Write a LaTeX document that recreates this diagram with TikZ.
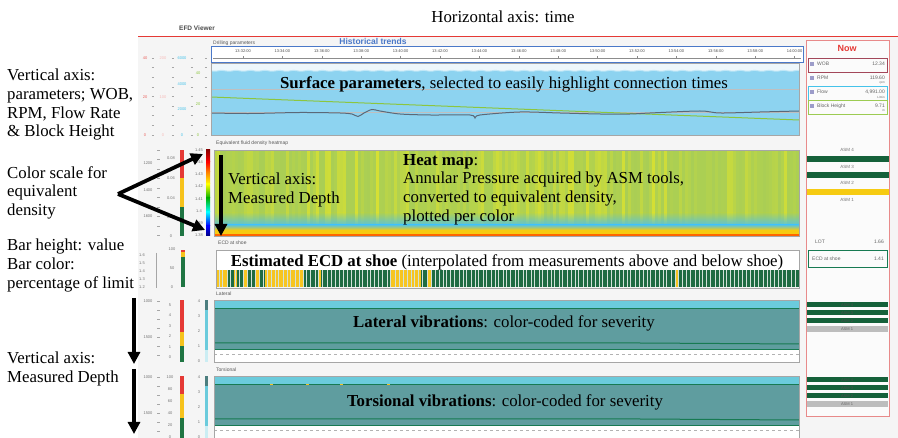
\documentclass[tikz,border=0pt]{standalone}
\usepackage{fontspec}
\setmainfont{Liberation Serif}
\newfontfamily\uisans{Liberation Sans}
\usetikzlibrary{arrows.meta}

\definecolor{uired}{HTML}{E53935}
\definecolor{nowframe}{HTML}{E88A8A}
\definecolor{wobframe}{HTML}{A3475A}
\definecolor{flowframe}{HTML}{45C3EA}
\definecolor{bhframe}{HTML}{9CCB52}
\definecolor{histblue}{HTML}{4A78C8}
\definecolor{surfblue}{HTML}{8DD3F0}
\definecolor{surftop}{HTML}{EEF7FB}
\definecolor{trendgray}{HTML}{5B6878}
\definecolor{trendgreen}{HTML}{8CC63F}
\definecolor{heatgrn}{HTML}{A9CE55}
\definecolor{heatyel}{HTML}{DCE22E}
\definecolor{heatcyan}{HTML}{5CC3D8}
\definecolor{heatbot}{HTML}{F6CB12}
\definecolor{ecdgreen}{HTML}{1E6B42}
\definecolor{ecdyel}{HTML}{F7C520}
\definecolor{vibcyan}{HTML}{6BCBDC}
\definecolor{vibteal}{HTML}{5F9D9F}
\definecolor{vibline}{HTML}{177A52}
\definecolor{asmgreen}{HTML}{15613A}
\definecolor{asmgray}{HTML}{BDBDBD}
\definecolor{barred}{HTML}{E53935}
\definecolor{baryel}{HTML}{F6C21C}
\definecolor{bargreen}{HTML}{1F7543}
\definecolor{uibg}{HTML}{F5F5F5}

\begin{document}
\begin{tikzpicture}[x=1pt, y=-1pt,
   note/.style={font=\fontsize{16.8}{18.7}\selectfont, align=left, inner sep=0pt, anchor=north west},
   caption/.style={font=\fontsize{16.8}{18.7}\selectfont, inner sep=0pt},
   bigarrow/.style={line width=3.8pt, -{Triangle[length=12pt,width=12pt]}},
   scalelab/.style={font=\uisans\fontsize{4}{4}\selectfont, text=black!55, inner sep=0pt},
   paneltitle/.style={font=\uisans\fontsize{5}{5}\selectfont, text=black!65, inner sep=0pt, anchor=west},
   nowlab/.style={font=\uisans\fontsize{5}{5}\selectfont, text=black!60, inner sep=0pt},
   asmlab/.style={font=\uisans\fontsize{4.5}{4.5}\selectfont, text=black!55, inner sep=0pt},
   panelframe/.style={draw=black!35, line width=0.6pt}]
\useasboundingbox (0,0) rectangle (898,438);
\fill[white] (0,0) rectangle (898,438);
\fill[uibg] (138,37) rectangle (898,438);

% screenshot header
\node[font=\uisans\bfseries\fontsize{6.5}{6.5}\selectfont, text=black!70] (viewer) at (197,28) {EFD Viewer};
\draw[uired, line width=1pt] (138,36.5) -- (898,36.5);
\node[paneltitle] (drilltitle) at (213,43) {Drilling parameters};
\node[font=\uisans\bfseries\fontsize{8.5}{8.5}\selectfont, text=histblue] (hist) at (373,41) {Historical trends};

% time axis
\fill[white] (211,47) rectangle (803,62);
\draw[black!45, line width=0.6pt] (213,58.5) -- (801,58.5);
\foreach \t [count=\k from 0] in {13:32:00,13:34:00,13:36:00,13:38:00,13:40:00,13:42:00,13:44:00,13:46:00,13:48:00,13:50:00,13:52:00,13:54:00,13:56:00,13:58:00,14:00:00}{
  \node[scalelab, text=black!70] (time\k) at (243+39.4*\k,51.5) {\t};
  \draw[black!45, line width=0.4pt] (243+39.4*\k,56.5) -- (243+39.4*\k,58.5);
}
\draw[histblue, line width=1pt] (211,47) rectangle (803,62.5);

% surface parameters panel
\fill[surftop] (211,63) rectangle (799,71);
\fill[surfblue] (211,71) rectangle (799,135);
\draw[surfblue!55!white, line width=1pt] plot[domain=211:799, samples=200] (\x, {70.8+0.45*sin((\x-211)*25)});
\draw[black!25, line width=0.5pt] (211,89) -- (799,89);
\draw[black!25, line width=0.5pt] (211,112) -- (799,112);
\draw[trendgreen, line width=1pt] (211,97) -- (799,120);
\draw[trendgray, line width=1pt] plot[smooth] coordinates {(211,113) (250,113.5) (300,112.5) (340,113) (352,114) (358,116.5) (364,113) (372,109.5) (380,111) (400,114) (430,115) (470,115) (475,118) (480,115) (520,112) (560,113) (600,114) (630,114) (650,113) (700,111) (720,113) (760,112) (799,111)};
\draw[panelframe] (211,63) rectangle (799,135);

% surface scales
\foreach \lab/\yy in {40/58,20/97,0/135}{\node[scalelab, text=barred!80] at (145,\yy) {\lab};}
\foreach \lab/\yy in {200/58,100/97,0/135}{\node[scalelab, text=barred!35] at (163,\yy) {\lab};}
\foreach \lab/\yy in {6000/58,4000/84,2000/109,0/135}{\node[scalelab, text=flowframe] at (182,\yy) {\lab};}
\foreach \lab/\yy in {40/73,20/104,0/135}{\node[scalelab, text=trendgreen] at (198,\yy) {\lab};}
\foreach \xx in {153,173,192,206}{
  \foreach \k in {0,...,8}{\draw[black!35, line width=0.4pt] (\xx-1.2,58+9.6*\k) -- (\xx+1.2,58+9.6*\k);}
}

% heat map
\node[paneltitle] (heattitle) at (216,143) {Equivalent fluid density heatmap};
\pgfmathsetseed{17}
\foreach \i in {0,...,194}{
  \pgfmathtruncatemacro\mix{100*rnd*rnd}
  \fill[heatyel!\mix!heatgrn] (214+3*\i,150) rectangle ++(3.2,63);
  \shade[top color=heatyel!\mix!heatgrn, bottom color=heatcyan] (214+3*\i,212.5) rectangle ++(3.2,13);
}
\shade[top color=heatcyan, bottom color=heatbot] (214,225) rectangle (799,230);
\fill[heatbot] (214,230) rectangle (799,234);
\fill[orange!80!red] (214,234) rectangle (799,236);
\draw[black!50, line width=0.8pt] (214,150) -- (799,150);
\draw[panelframe] (214,150) rectangle (799,236);

% heat map scales
\foreach \lab/\yy in {1200/163,1400/190,1600/216}{\node[scalelab] at (148,\yy) {\lab};}
\foreach \k in {0,...,9}{\draw[black!35, line width=0.4pt] (157,150+9.5*\k) -- (159.5,150+9.5*\k);}
\foreach \lab/\yy in {0.08/158,0.06/178,0.04/198,0.02/217,0/236}{\node[scalelab] at (171,\yy) {\lab};}
\fill[barred] (180,150) rectangle (184,178);
\fill[baryel] (180,178) rectangle (184,207);
\fill[bargreen] (180,207) rectangle (184,236);
\foreach \lab [count=\k from 0] in {1.45,1.44,1.43,1.42,1.41,1.4,1.39,1.38}{\node[scalelab] at (199,150+12.2*\k) {\lab};}
\shade[top color=red!55!black, bottom color=red] (206,150) rectangle (210,162);
\shade[top color=red, bottom color=orange] (206,162) rectangle (210,172);
\shade[top color=orange, bottom color=yellow] (206,172) rectangle (210,184);
\shade[top color=yellow, bottom color=green!70!black] (206,184) rectangle (210,198);
\shade[top color=green!70!black, bottom color=cyan] (206,198) rectangle (210,212);
\shade[top color=cyan, bottom color=blue] (206,212) rectangle (210,226);
\shade[top color=blue, bottom color=blue!50!black] (206,226) rectangle (210,236);

% ECD at shoe
\node[paneltitle] (ecdtitle) at (218,243) {ECD at shoe};
\fill[white] (216,250) rectangle (799,270);
\fill[ecdgreen] (216,270) rectangle (799,287.5);
\foreach \a/\b in {216/228,234/237,244/247,256/259,265/303,318/321,390/421,427/431,676/679}{\fill[ecdyel] (\a,270) rectangle (\b,287.5);}
\foreach \i in {0,...,144}{\draw[white!80!ecdgreen, line width=0.35pt] ({218+4*\i+1.5*rnd},270) -- ++(0,17.5);}
\draw[panelframe] (216,250) rectangle (799,288);
\foreach \lab/\yy in {1.6/255,1.5/263,1.4/271,1.3/279,1.2/287}{\node[scalelab] at (142,\yy) {\lab};}
\draw[black!35, line width=0.4pt] (156,253) -- (156,288);
\foreach \lab/\yy in {100/249,50/268,0/287}{\node[scalelab] at (172,\yy) {\lab};}
\fill[barred] (180.5,250) rectangle (184.5,252.5);
\fill[baryel] (180.5,252.5) rectangle (184.5,257);
\fill[bargreen] (180.5,257) rectangle (184.5,287);

% vibration panels
\foreach \top/\name in {300/Lateral,376/Torsional}{
  \node[paneltitle] at (216,\top-6) {\name};
  \fill[vibcyan] (214,\top) rectangle (799,\top+8);
  \fill[vibteal] (214,\top+8) rectangle (799,\top+50);
  \fill[white] (214,\top+50) rectangle (799,\top+62);
  \draw[vibline, line width=1.3pt] (214,\top+8.5) -- (799,\top+8.5);
  \draw[vibline, line width=1pt] (214,\top+43) -- (640,\top+43) -- (799,\top+44);
  \draw[vibline, line width=1.3pt] (214,\top+49.5) -- (799,\top+49.5);
  \draw[black!30, dashed, line width=0.4pt] (214,\top+54) -- (799,\top+54);
  \draw[panelframe] (214,\top) rectangle (799,\top+62);
  % depth labels and severity bars
  \node[scalelab] at (148,\top+1) {1000};
  \node[scalelab] at (148,\top+37) {1500};
  \foreach \k in {0,...,6}{\draw[black!35, line width=0.4pt] (157,\top+1+9*\k) -- (159.5,\top+1+9*\k);}
  \fill[vibteal!80!black] (205,\top) rectangle (208,\top+10);
  \fill[vibcyan] (205,\top+10) rectangle (208,\top+50);
  \fill[vibcyan!35] (205,\top+50) rectangle (208,\top+62);
  \foreach \lab [count=\k from 0] in {4,3,2,1,0}{\node[scalelab] at (199,\top+1+15*\k) {\lab};}
}
\foreach \lab [count=\k from 0] in {5,4,3,2,1,0}{\node[scalelab] at (170,305+10.5*\k) {\lab};}
\fill[barred] (179.5,300) rectangle (183.5,332);
\fill[baryel] (179.5,332) rectangle (183.5,346);
\fill[bargreen] (179.5,346) rectangle (183.5,362);
\foreach \lab [count=\k from 0] in {100,80,60,40,20,0}{\node[scalelab] at (170,377+12*\k) {\lab};}
\fill[barred] (179.5,376) rectangle (183.5,394);
\fill[baryel] (179.5,394) rectangle (183.5,418);
\fill[bargreen] (179.5,418) rectangle (183.5,438);
\foreach \xx/\yy in {270/384,306/384,340/384,387/384}{\fill[baryel] (\xx,\yy) rectangle ++(3,1.5);}

% Now panel
\fill[white!60!uibg] (806,41) rectangle (889,417);
\node[font=\uisans\bfseries\fontsize{9}{9}\selectfont, text=uired] (now) at (847,48) {Now};
\draw[wobframe, line width=0.8pt] (808,58) rectangle (887,72);
\draw[flowframe, line width=0.8pt] (808,86) rectangle (887,100);
\draw[bhframe, line width=0.8pt] (808,100) rectangle (887,114);
\foreach \yy in {62,76,90,104}{\fill[blue!30!gray!60] (810,\yy) rectangle ++(4,4);}
\node[nowlab, anchor=west] (wob) at (817,64) {WOB};
\node[nowlab, anchor=east] (wobval) at (885,64) {12.34};
\node[nowlab, anchor=west] (rpm) at (817,78) {RPM};
\node[nowlab, anchor=east] (rpmval) at (885,78) {119.60};
\node[nowlab, anchor=east, font=\uisans\fontsize{3}{3}\selectfont] (rpmunit) at (885,83) {rpm};
\node[nowlab, anchor=west] (flow) at (817,92) {Flow};
\node[nowlab, anchor=east] (flowval) at (885,92) {4,991.00};
\node[nowlab, anchor=east, font=\uisans\fontsize{3}{3}\selectfont] (flowunit) at (885,97) {L/min};
\node[nowlab, anchor=west] (block) at (817,106) {Block Height};
\node[nowlab, anchor=east] (blockval) at (885,106) {9.71};
\node[nowlab, anchor=east, font=\uisans\fontsize{3}{3}\selectfont] (blockunit) at (885,111) {m};

\node[asmlab] (heat4) at (847,150) {ASM 4};
\fill[asmgreen] (806,156) rectangle (889,162);
\node[asmlab] (heat3) at (847,166.5) {ASM 3};
\fill[asmgreen] (806,172.5) rectangle (889,178);
\node[asmlab] (heat2) at (847,183) {ASM 2};
\fill[heatbot] (806,189) rectangle (889,195);
\node[asmlab] (heat1) at (847,200) {ASM 1};

\node[nowlab, anchor=west] (lot) at (815,242) {LOT};
\node[nowlab, anchor=east] (lotval) at (884,242) {1.66};
\draw[vibline, line width=0.8pt] (808,250) rectangle (887,267);
\node[nowlab, anchor=west] (ecdnow) at (812,258.5) {ECD at shoe};
\node[nowlab, anchor=east] (ecdval) at (884,258.5) {1.41};

\foreach \top in {302,377}{
  \foreach \k/\lab in {0/ASM 4,1/ASM 3,2/ASM 2}{
    \fill[asmgreen] (807,\top+8*\k) rectangle (888,\top+8*\k+5.5);
    \node[asmlab, text=black!70, font=\uisans\fontsize{4}{4}\selectfont] at (847,\top+8*\k+2.75) {\lab};
  }
  \fill[asmgray] (807,\top+24) rectangle (888,\top+30);
  \node[asmlab, text=black!60, font=\uisans\fontsize{4}{4}\selectfont] at (847,\top+27) {ASM 1};
}
\draw[nowframe, line width=1pt] (806,41) rectangle (889,417);

% captions on the panels
\node[caption] (horiz) at (503,17) {Horizontal axis: time};
\node[caption] (surface) at (504,84) {\textbf{Surface parameters}, selected to easily highlight connection times};
\node[note] (heatnote) at (403,154) {\textbf{Heat map}:\\Annular Pressure acquired by ASM tools,\\converted to equivalent density,\\plotted per color};
\node[note] (depthin) at (228,173) {Vertical axis:\\Measured Depth};
\node[caption] (ecd) at (507,262) {\textbf{Estimated ECD at shoe} (interpolated from measurements above and below shoe)};
\node[caption] (lateral) at (504,323) {\textbf{Lateral vibrations}: color-coded for severity};
\node[caption] (torsional) at (505,402) {\textbf{Torsional vibrations}: color-coded for severity};

% notes on the left
\node[note] (params) at (7,69) {Vertical axis:\\parameters; WOB,\\RPM, Flow Rate\\\& Block Height};
\node[note] (colscale) at (7,166) {Color scale for\\equivalent\\density};
\node[note] (barnote) at (7,239) {Bar height: value\\Bar color:\\percentage of limit};
\node[note] (depthout) at (7,352) {Vertical axis:\\Measured Depth};

\coordinate (apex) at (118,194);
\coordinate (scaletop) at (203,154);
\coordinate (scalebot) at (205,230);
\draw[bigarrow] (apex) -- (scaletop);
\draw[bigarrow] (apex) -- (scalebot);
\draw[bigarrow] (221,155) coordinate (heatstart) -- (221,236) coordinate (heatend);
\draw[bigarrow] (134,298) coordinate (latstart) -- (134,364) coordinate (latend);
\draw[bigarrow] (134,369) coordinate (torstart) -- (134,434) coordinate (torend);
\end{tikzpicture}
\end{document}
